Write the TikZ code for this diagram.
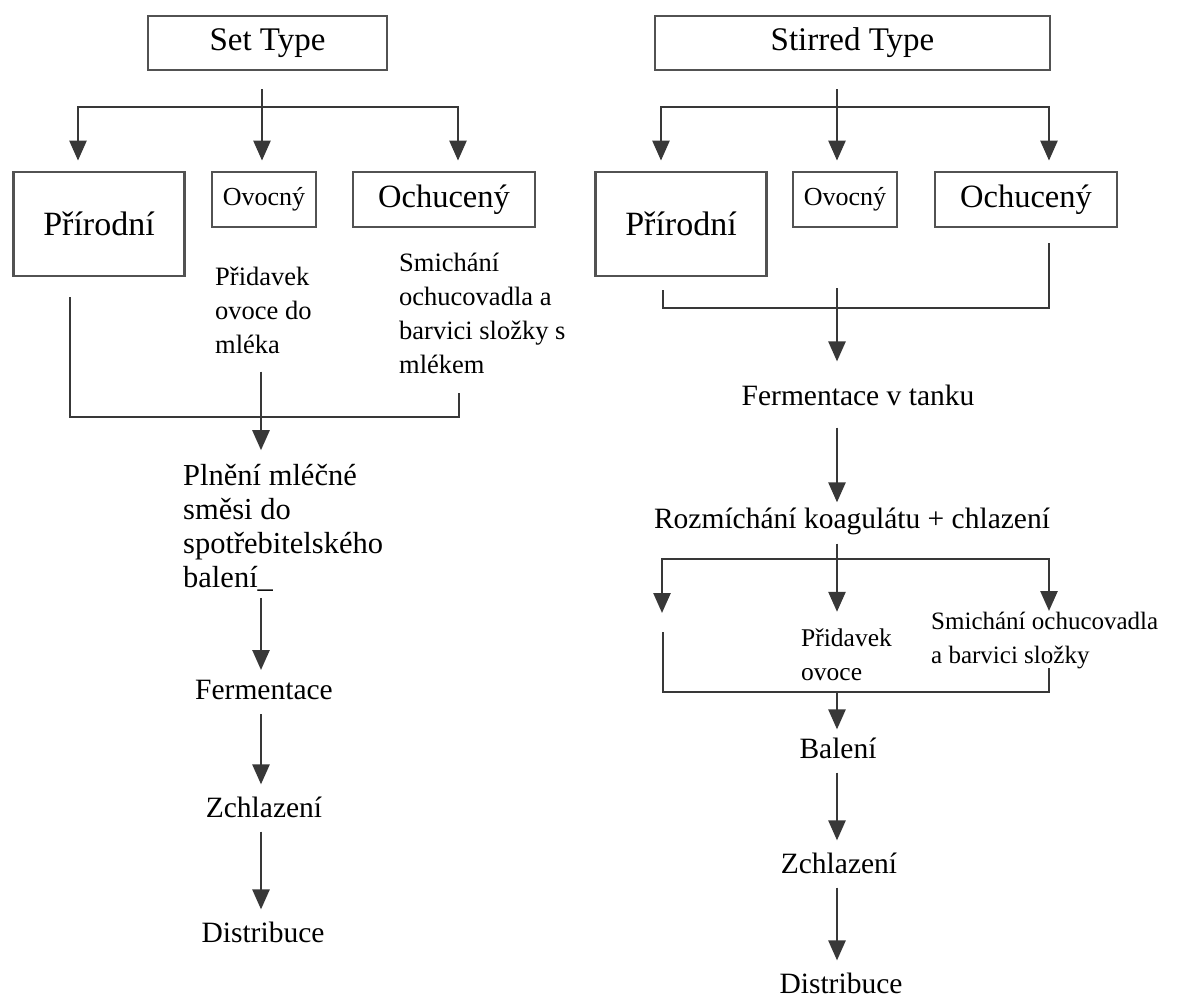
\documentclass[tikz,border=0pt]{standalone}
\usepackage{fontspec}
\setmainfont{Liberation Serif}
\usepackage{tikz}
\usetikzlibrary{arrows.meta, positioning}

\begin{document}
\begin{tikzpicture}[x=1pt, y=-1pt,
  typebox/.style={draw=black!68, line width=2.8pt, inner sep=0pt},
  headbox/.style={typebox, minimum height=54pt, font=\fontsize{33}{36}\selectfont},
  natbox/.style={typebox, minimum width=171pt, minimum height=104pt, font=\fontsize{34}{36}\selectfont},
  fruitbox/.style={typebox, minimum width=104pt, minimum height=55pt, font=\fontsize{26}{28}\selectfont},
  flavbox/.style={typebox, minimum width=182pt, minimum height=55pt, font=\fontsize{32.5}{36}\selectfont},
  conn/.style={draw=black!78, line width=2.6pt},
  arr/.style={conn, -{Triangle[width=17pt,length=20pt]}},
  flow/.style={arr, shorten <=14pt, shorten >=12pt},
  steptext/.style={inner sep=0pt, font=\fontsize{29.5}{34}\selectfont},
  note/.style={steptext, align=left, anchor=west},
  smallnote/.style={note, font=\fontsize{26.5}{34}\selectfont}]
\useasboundingbox (0,0) rectangle (1178,998);

% Set type
\node[headbox, minimum width=239pt] (settype) at (267.5,43) {Set Type};
\node[natbox] (prirL) at (99,224) {Přírodní};
\node[fruitbox] (ovocL) at (264,199.5) {Ovocný};
\node[flavbox] (ochL) at (444,199.5) {Ochucený};
\node[smallnote] (pridL) at (215,310) {Přidavek\\ovoce do\\mléka};
\node[smallnote] (smichL) at (399,313) {Smichání\\ochucovadla a\\barvici složky s\\mlékem};
\node[note, font=\fontsize{30.5}{34}\selectfont] (plnL) at (183,528) {Plnění mléčné\\směsi do\\spotřebitelského\\balení\_};
\node[steptext] (fermL) at (264,690) {Fermentace};
\node[steptext] (zchlL) at (264,807) {Zchlazení};
\node[steptext] (distL) at (263,932) {Distribuce};

\coordinate (setfork) at (262,107);
\coordinate (setL) at (78,107);
\coordinate (setR) at (458,107);
\draw[conn, shorten <=18pt] (settype.south -| setfork) -- (setfork);
\draw[arr, shorten >=10pt] (setfork) -| (setL |- prirL.north);
\draw[arr, shorten >=10pt] (setfork) -- (setfork |- ovocL.north);
\draw[arr, shorten >=10pt] (setfork) -| (setR |- ochL.north);

\coordinate (setjoinL) at (70,417);
\coordinate (setjoin) at (261,417);
\coordinate (setjoinR) at (459,417);
\coordinate (smichLend) at (459,393);
\draw[conn, shorten <=20pt] (prirL.south -| setjoinL) -- (setjoinL) -- (setjoinR) -- (smichLend);
\draw[arr, shorten <=18pt, shorten >=14pt] (pridL.south -| setjoin) -- (plnL.north -| setjoin);
\draw[arr, shorten <=6pt, shorten >=10pt] (plnL.south -| setjoin) -- (fermL.north -| setjoin);
\draw[flow] (fermL.south -| setjoin) -- (zchlL.north -| setjoin);
\draw[flow] (zchlL.south -| setjoin) -- (distL.north -| setjoin);

% Stirred type
\node[headbox, minimum width=395pt] (stirtype) at (852.5,43) {Stirred Type};
\node[natbox] (prirR) at (681,224) {Přírodní};
\node[fruitbox] (ovocR) at (845,199.5) {Ovocný};
\node[flavbox] (ochR) at (1026,199.5) {Ochucený};
\node[steptext] (fermR) at (858,395) {Fermentace v tanku};
\node[steptext] (rozmR) at (852,521) {Rozmíchání koagulátu + chlazení};
\node[smallnote, font=\fontsize{25.5}{34}\selectfont] (pridR) at (801,655) {Přidavek\\ovoce};
\node[smallnote, font=\fontsize{25}{34}\selectfont] (smichR) at (931,640) {Smichání ochucovadla\\a barvici složky};
\node[steptext] (balR) at (838,748) {Balení};
\node[steptext] (zchlR) at (839,863) {Zchlazení};
\node[steptext] (distR) at (841,983) {Distribuce};

\coordinate (stirfork) at (837,107);
\coordinate (stirL) at (661,107);
\coordinate (stirR) at (1049,107);
\draw[conn, shorten <=18pt] (stirtype.south -| stirfork) -- (stirfork);
\draw[arr, shorten >=10pt] (stirfork) -| (stirL |- prirR.north);
\draw[arr, shorten >=10pt] (stirfork) -- (stirfork |- ovocR.north);
\draw[arr, shorten >=10pt] (stirfork) -| (stirR |- ochR.north);

\coordinate (stirjoinL) at (663,308);
\coordinate (stirjoin) at (837,308);
\coordinate (stirjoinR) at (1049,308);
\draw[conn, shorten <=13pt, shorten >=15pt] (prirR.south -| stirjoinL) -- (stirjoinL) -- (stirjoinR) -- (ochR.south -| stirjoinR);
\draw[arr, shorten <=60pt, shorten >=23pt] (ovocR.south -| stirjoin) -- (fermR.north -| stirjoin);
\draw[arr, shorten <=22pt, shorten >=5pt] (fermR.south -| stirjoin) -- (rozmR.north -| stirjoin);

\coordinate (rozfork) at (837,559);
\coordinate (rozLtip) at (662,613);
\coordinate (smichRtip) at (1049,611);
\draw[conn, shorten <=9pt] (rozmR.south -| rozfork) -- (rozfork);
\draw[arr] (rozfork) -| (rozLtip);
\draw[arr, shorten >=17pt] (rozfork) -- (pridR.north -| rozfork);
\draw[arr] (rozfork) -| (smichRtip);

\coordinate (packTL) at (663,632);
\coordinate (packL) at (663,692);
\coordinate (pack) at (837,692);
\coordinate (packR) at (1049,692);
\coordinate (smichRend) at (1049,668);
\draw[conn] (packTL) -- (packL) -- (packR) -- (smichRend);
\draw[arr, shorten >=8pt] (pack) -- (balR.north -| pack);
\draw[flow] (balR.south -| pack) -- (zchlR.north -| pack);
\draw[flow] (zchlR.south -| pack) -- (distR.north -| pack);
\end{tikzpicture}
\end{document}
